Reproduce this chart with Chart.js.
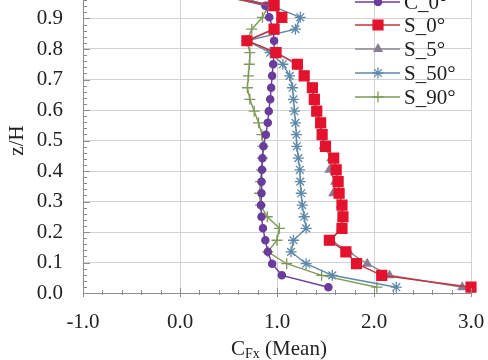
<!DOCTYPE html>
<html>
<head>
<meta charset="utf-8">
<script src="https://cdn.jsdelivr.net/npm/chart.js@4/dist/chart.umd.min.js"></script>
<style>
  html, body { margin: 0; padding: 0; background: #fff; overflow: hidden; }
  #wrap { position: relative; width: 488px; height: 360px; overflow: hidden; background: #fff; }
  #wrap canvas { position: absolute; left: 0; top: -12px; }
</style>
</head>
<body>
<div id="wrap"><canvas id="c" width="488" height="372"></canvas></div>
<script>
// Height levels z/H of the measuring taps
const zLevels = [0.019, 0.058, 0.096, 0.135, 0.173, 0.212, 0.250, 0.288, 0.327, 0.365,
                 0.404, 0.442, 0.481, 0.519, 0.558, 0.596, 0.635, 0.673, 0.712, 0.750,
                 0.788, 0.827, 0.865, 0.904, 0.942, 0.981];

// Mean sectional force coefficient C_Fx at each level
const cfxC0  = [1.53, 1.05, 0.95, 0.905, 0.88, 0.855, 0.84, 0.835, 0.84, 0.84,
                0.845, 0.85, 0.86, 0.885, 0.905, 0.915, 0.93, 0.94, 0.95, 0.96,
                0.97, 0.97, 0.96, 0.92, 0.88, 0.35];
const cfxS0  = [3.00, 2.08, 1.82, 1.71, 1.54, 1.67, 1.68, 1.67, 1.64, 1.63,
                1.61, 1.585, 1.50, 1.465, 1.45, 1.41, 1.385, 1.365, 1.28, 1.21,
                0.99, 0.69, 0.97, 1.05, 0.97, 0.30];
const cfxS5  = [2.91, 2.16, 1.93, 1.74, 1.56, 1.66, 1.67, 1.66, 1.58, 1.60,
                1.54, 1.56, 1.48, 1.46, 1.44, 1.40, 1.38, 1.36, 1.28, 1.20,
                0.99, 0.69, 0.96, 1.04, 0.95, 0.30];
const cfxS50 = [2.23, 1.57, 1.30, 1.145, 1.17, 1.30, 1.28, 1.26, 1.25, 1.24,
                1.235, 1.22, 1.205, 1.20, 1.19, 1.18, 1.17, 1.16, 1.13, 1.06,
                0.93, 0.69, 1.19, 1.24, 0.94, 0.45];
const cfxS90 = [2.03, 1.46, 1.10, 0.905, 1.00, 1.025, 0.90, 0.83, 0.82, 0.83,
                0.84, 0.85, 0.855, 0.845, 0.81, 0.765, 0.72, 0.695, 0.705, 0.715,
                0.72, 0.69, 0.74, 0.85, 0.91, 0.50];

const seriesNames = ['C_0°', 'S_0°', 'S_5°', 'S_50°', 'S_90°'];
const xTickValues = [-1, 0, 1, 2, 3];
const yTickValues = [0, 0.1, 0.2, 0.3, 0.4, 0.5, 0.6, 0.7, 0.8, 0.9];

const SERIF = '"Liberation Serif", "Times New Roman", serif';

// The canvas reaches 12px above the page, so the axis top (1.0) sits just out of view
const CANVAS_TOP = -12;

const styles = [
  { line: '#6a3c9c', fill: '#6a3c9c', point: 'circle',   r: 3.6, order: 2 },
  { line: '#c4333f', fill: '#e3132d', point: 'rect',     r: 7,   order: 0 },
  { line: '#8c8894', fill: '#8a7d92', point: 'triangle', r: 4.6, order: 1 },
  { line: '#5e89a9', fill: '#5e89a9', point: 'star',     r: 5.5, order: 3 },
  { line: '#7e9a58', fill: '#7e9a58', point: 'cross',    r: 5.5, order: 4 }
];

const seriesValues = [cfxC0, cfxS0, cfxS5, cfxS50, cfxS90];

const datasets = seriesValues.map((vals, k) => ({
  label: seriesNames[k],
  data: vals.map((v, i) => ({ x: v, y: zLevels[i] })),
  showLine: true,
  borderColor: styles[k].line,
  borderWidth: 1.4,
  pointStyle: styles[k].point,
  pointRadius: styles[k].r,
  pointBackgroundColor: styles[k].fill,
  pointBorderColor: styles[k].fill,
  pointBorderWidth: 1.3,
  order: styles[k].order,
  clip: false,
  tension: 0
}));

// Minor ticks, axis titles and the in-plot legend
const decor = {
  id: 'decor',
  afterDraw(chart) {
    const { ctx, chartArea: a, scales: { x, y } } = chart;
    const off = -CANVAS_TOP;          // page y -> canvas y
    ctx.save();
    ctx.strokeStyle = '#8c8c8c';
    ctx.lineWidth = 1;
    // y axis: ticks every 0.02, pointing into the plot
    for (let n = 0; n <= 50; n++) {
      const py = Math.round(y.getPixelForValue(n / 50)) + 0.5;
      const len = n % 5 === 0 ? 7 : 4;
      ctx.beginPath(); ctx.moveTo(a.left, py); ctx.lineTo(a.left + len, py); ctx.stroke();
    }
    // x axis: ticks every 0.2 across the axis line
    for (let n = -5; n <= 15; n++) {
      const px = Math.round(x.getPixelForValue(n / 5)) + 0.5;
      const major = n % 5 === 0;
      ctx.beginPath();
      ctx.moveTo(px, a.bottom - (major ? 5 : 3));
      ctx.lineTo(px, a.bottom + (major ? 4 : 2));
      ctx.stroke();
    }

    // x axis title: C with subscript Fx, then (Mean)
    ctx.fillStyle = '#222';
    ctx.textBaseline = 'alphabetic';
    ctx.textAlign = 'left';
    const big = '21px ' + SERIF, small = '14px ' + SERIF;
    ctx.font = big; const wC = ctx.measureText('C').width;
    ctx.font = small; const wF = ctx.measureText('Fx').width;
    ctx.font = big; const wM = ctx.measureText(' (Mean)').width;
    const total = wC + wF + wM;
    let tx = (a.left + a.right) / 2 - total / 2 + 2;
    const base = 355 + off;
    ctx.font = big; ctx.fillText('C', tx, base); tx += wC;
    ctx.font = small; ctx.fillText('Fx', tx, base + 3); tx += wF;
    ctx.font = big; ctx.fillText(' (Mean)', tx, base);

    // y axis title
    ctx.save();
    ctx.translate(17, (a.top + a.bottom) / 2);
    ctx.rotate(-Math.PI / 2);
    ctx.textAlign = 'center';
    ctx.textBaseline = 'middle';
    ctx.font = big;
    ctx.fillText('z/H', 0, 0);
    ctx.restore();

    // legend
    const rowY = [2, 25, 49, 73, 97];
    chart.data.datasets.forEach((ds, k) => {
      const yy = rowY[k] + off;
      ctx.strokeStyle = ds.borderColor;
      ctx.lineWidth = 1.4;
      ctx.beginPath(); ctx.moveTo(355, yy); ctx.lineTo(400, yy); ctx.stroke();
      ctx.fillStyle = ds.pointBackgroundColor;
      ctx.strokeStyle = ds.pointBorderColor;
      ctx.lineWidth = ds.pointBorderWidth;
      Chart.helpers.drawPoint(ctx, { pointStyle: ds.pointStyle, radius: ds.pointRadius, rotation: 0, borderWidth: ds.pointBorderWidth }, 378, yy);
      ctx.fillStyle = '#222';
      ctx.font = big;
      ctx.textAlign = 'left';
      ctx.textBaseline = 'middle';
      ctx.fillText(ds.label, 404, yy + 1);
    });
    ctx.restore();
  }
};

new Chart(document.getElementById('c'), {
  type: 'scatter',
  data: { datasets },
  options: {
    responsive: false,
    animation: false,
    devicePixelRatio: 1,
    layout: { autoPadding: false, padding: { left: 0, top: 0, right: 17, bottom: 0 } },
    plugins: { legend: { display: false }, tooltip: { enabled: false } },
    scales: {
      x: {
        type: 'linear', position: 'bottom', min: -1, max: 3,
        afterBuildTicks: s => { s.ticks = xTickValues.map(v => ({ value: v })); },
        afterFit: s => { s.height = 67; s.paddingLeft = 0; s.paddingRight = 0; },
        ticks: {
          callback: v => v.toFixed(1), autoSkip: false, maxRotation: 0,
          font: { family: SERIF, size: 21 }, color: '#222', padding: 17
        },
        grid: { color: '#d2d2d2', lineWidth: 1, drawTicks: false },
        border: { color: '#8c8c8c', width: 1 }
      },
      y: {
        type: 'linear', position: 'left', min: 0, max: 1,
        afterBuildTicks: s => { s.ticks = yTickValues.map(v => ({ value: v })); },
        afterFit: s => { s.width = 83; s.paddingTop = 0; s.paddingBottom = 0; },
        ticks: {
          callback: v => v.toFixed(1), autoSkip: false,
          font: { family: SERIF, size: 21 }, color: '#222', padding: 20
        },
        grid: { color: '#d2d2d2', lineWidth: 1, drawTicks: false },
        border: { color: '#8c8c8c', width: 1 }
      }
    }
  },
  plugins: [decor]
});
</script>
</body>
</html>
